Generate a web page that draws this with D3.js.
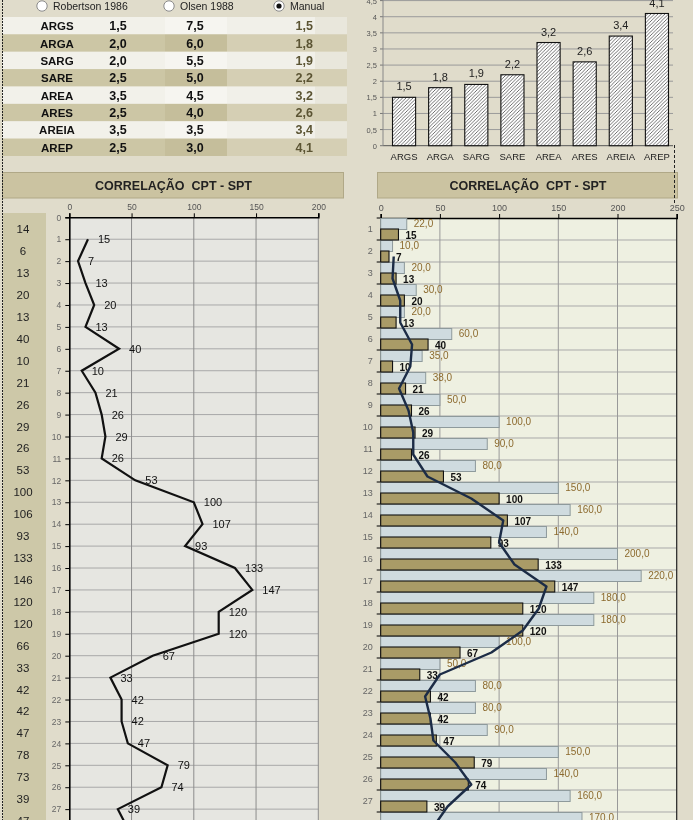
<!DOCTYPE html>
<html><head><meta charset="utf-8">
<script src="https://cdn.jsdelivr.net/npm/d3@7"></script>
<style>
html,body{margin:0;padding:0;background:#e0dccb;overflow:hidden}
svg{display:block;will-change:transform}
text{font-family:"Liberation Sans",Arial,sans-serif}
</style></head>
<body>
<svg id="c" width="693" height="820"></svg>
<script>
// ---------- DATA ----------
const soils      = ["ARGS","ARGA","SARG","SARE","AREA","ARES","AREIA","AREP"];
const kRobertson = [1.5,2.0,2.0,2.5,3.5,2.5,3.5,2.5];
const kOlsen     = [7.5,6.0,5.5,5.0,4.5,4.0,3.5,3.0];
const kManual    = [1.5,1.8,1.9,2.2,3.2,2.6,3.4,4.1];
const methods    = ["Robertson 1986","Olsen 1988","Manual"];
const depths     = [1,2,3,4,5,6,7,8,9,10,11,12,13,14,15,16,17,18,19,20,21,22,23,24,25,26,27,28];
const qcValues   = [22,10,20,30,20,60,35,38,50,100,90,80,150,160,140,200,220,180,180,100,50,80,80,90,150,140,160,170];
const nsptValues = [15,7,13,20,13,40,10,21,26,29,26,53,100,107,93,133,147,120,120,67,33,42,42,47,79,74,39,48];
const nsptTable  = [14,6,13,20,13,40,10,21,26,29,26,53,100,106,93,133,146,120,120,66,33,42,42,47,78,73,39,47];
const leftTicks  = [0,50,100,150,200];
const rightTicks = [0,50,100,150,200,250];
const barTicks   = [0,0.5,1,1.5,2,2.5,3,3.5,4,4.5];
const title      = "CORRELAÇÃO  CPT - SPT";

const loc = d3.formatLocale({decimal:",",thousands:".",grouping:[3],currency:["R$",""]});
const f1 = loc.format(".1f");
const fTick = v => loc.format("~g")(v);

const svg = d3.select("#c");
const defs = svg.append("defs");
const pat = defs.append("pattern").attr("id","hatch").attr("patternUnits","userSpaceOnUse")
  .attr("width",3.5).attr("height",3.5);
pat.append("rect").attr("width",3.5).attr("height",3.5).attr("fill","#fff");
pat.append("path").attr("d","M-1,1 L1,-1 M0,3.5 L3.5,0 M2.5,4.5 L4.5,2.5")
  .attr("stroke","#333").attr("stroke-width",0.7);

// ---------- TOP LEFT TABLE ----------
const radioX = [42,169,279];
methods.forEach((m,i)=>{
  svg.append("circle").attr("cx",radioX[i]).attr("cy",6).attr("r",5.2)
    .attr("fill","#fff").attr("stroke","#8a8a8a").attr("stroke-width",1);
  if(i===2) svg.append("circle").attr("cx",radioX[i]).attr("cy",6).attr("r",2.6).attr("fill","#111");
  svg.append("text").attr("x",radioX[i]+11).attr("y",10).attr("font-size",10.5).attr("fill","#222").text(m);
});
const rowY = d3.scaleBand(soils,[17,156]);
soils.forEach((s,i)=>{
  const y0 = rowY(s), h = rowY.bandwidth();
  const dark = i%2===1;
  svg.append("rect").attr("x",2).attr("y",y0).attr("width",163).attr("height",h).attr("fill",dark?"#ccc6a5":"#f2f1ea");
  svg.append("rect").attr("x",165).attr("y",y0).attr("width",62).attr("height",h).attr("fill",dark?"#c5be9b":"#f6f5f0");
  svg.append("rect").attr("x",227).attr("y",y0).attr("width",dark?120:88).attr("height",h).attr("fill",dark?"#d5cfb4":"#f1f0e9");
  if(!dark) svg.append("rect").attr("x",315).attr("y",y0).attr("width",32).attr("height",h).attr("fill","#e9e7dc");
  const ty = y0+h/2+4.5;
  svg.append("text").attr("x",57).attr("y",ty).attr("text-anchor","middle").attr("font-size",11.5).attr("font-weight","bold").attr("fill","#111").text(s);
  svg.append("text").attr("x",118).attr("y",ty).attr("text-anchor","middle").attr("font-size",12.5).attr("font-weight","bold").attr("fill","#111").text(f1(kRobertson[i]));
  svg.append("text").attr("x",195).attr("y",ty).attr("text-anchor","middle").attr("font-size",12.5).attr("font-weight","bold").attr("fill","#111").text(f1(kOlsen[i]));
  svg.append("text").attr("x",313).attr("y",ty).attr("text-anchor","end").attr("font-size",12.5).attr("font-weight","bold").attr("fill","#5b5433").text(f1(kManual[i]));
});

// ---------- TOP RIGHT BAR CHART ----------
const bx = d3.scaleBand(soils,[386,675]).paddingInner(0.36).paddingOuter(0.18);
const by = d3.scaleLinear([0,4.5],[145.7,0.6]);
const gB = svg.append("g");
gB.selectAll("line.g").data(barTicks).join("line")
  .attr("x1",383).attr("x2",673).attr("y1",d=>by(d)).attr("y2",d=>by(d))
  .attr("stroke",d=>d===0?"#555":"#9a9a9a").attr("stroke-width",1);
gB.selectAll("line.t").data(barTicks).join("line")
  .attr("x1",380).attr("x2",383).attr("y1",d=>by(d)).attr("y2",d=>by(d)).attr("stroke","#777");
gB.append("line").attr("x1",383).attr("x2",383).attr("y1",0).attr("y2",145.7).attr("stroke","#888");
gB.selectAll("text.t").data(barTicks).join("text")
  .attr("x",377).attr("y",d=>by(d)+3).attr("text-anchor","end").attr("font-size",7.5).attr("fill","#555")
  .text(d=>fTick(d));
gB.selectAll("rect.b").data(soils).join("rect")
  .attr("x",d=>bx(d)).attr("width",bx.bandwidth())
  .attr("y",(d,i)=>by(kManual[i])).attr("height",(d,i)=>by(0)-by(kManual[i]))
  .attr("fill","url(#hatch)").attr("stroke","#111").attr("stroke-width",1.1);
gB.selectAll("text.v").data(soils).join("text")
  .attr("x",d=>bx(d)+bx.bandwidth()/2).attr("y",(d,i)=>by(kManual[i])-7)
  .attr("text-anchor","middle").attr("font-size",11).attr("fill","#222").text((d,i)=>f1(kManual[i]));
gB.selectAll("text.c").data(soils).join("text")
  .attr("x",d=>bx(d)+bx.bandwidth()/2).attr("y",160)
  .attr("text-anchor","middle").attr("font-size",9.5).attr("fill","#222").text(d=>d);

// ---------- HEADERS ----------
[[2,341],[377,300]].forEach(([x,w])=>{
  svg.append("rect").attr("x",x+0.5).attr("y",172.5).attr("width",w).attr("height",25.5)
    .attr("fill","#cbc3a1").attr("stroke","#b0a887");
  svg.append("text").attr("x",x+w/2+1).attr("y",190).attr("text-anchor","middle")
    .attr("font-size",12.5).attr("font-weight","bold").attr("fill","#222")
    .style("white-space","pre").text(title);
});

// ---------- LEFT CHART ----------
const lx = d3.scaleLinear([0,200],[69.3,318.3]);
const ly = d3.scaleLinear([0,28],[217.3,217.3+21.92*28]);
const gL = svg.append("g");
gL.append("rect").attr("x",3).attr("y",213).attr("width",43).attr("height",620).attr("fill","#cdc8a8");
gL.append("rect").attr("x",lx(0)).attr("y",ly(0)).attr("width",lx(200)-lx(0)).attr("height",620).attr("fill","#e6e6e1");
gL.selectAll("line.h").data(d3.range(1,30)).join("line")
  .attr("x1",lx(0)).attr("x2",lx(200)).attr("y1",d=>ly(d)).attr("y2",d=>ly(d)).attr("stroke","#a8a8a8");
gL.selectAll("line.v").data(leftTicks.slice(1)).join("line")
  .attr("x1",d=>lx(d)).attr("x2",d=>lx(d)).attr("y1",ly(0)).attr("y2",830).attr("stroke","#8c8c8c");
gL.append("g").attr("transform",`translate(0,${ly(0)})`)
  .call(d3.axisTop(lx).tickValues(leftTicks).tickSize(4).tickPadding(3).tickFormat(d=>d))
  .call(g=>{g.select(".domain").attr("stroke","#000").attr("stroke-width",1.6);
            g.selectAll(".tick line").attr("stroke","#000");
            g.selectAll("text").attr("font-size",8.5).attr("fill","#555").attr("font-family","Liberation Sans, Arial");});
gL.append("g").attr("transform",`translate(${lx(0)},0)`)
  .call(d3.axisLeft(ly).tickValues(d3.range(0,29)).tickSize(4).tickPadding(4).tickFormat(d=>d))
  .call(g=>{g.select(".domain").attr("stroke","#000").attr("stroke-width",1.6);
            g.selectAll(".tick line").attr("stroke","#000");
            g.selectAll("text").attr("font-size",8.5).attr("fill","#666").attr("font-family","Liberation Sans, Arial");});
gL.selectAll("text.tb").data(depths).join("text")
  .attr("x",23).attr("y",d=>ly(d)-6).attr("text-anchor","middle").attr("font-size",11.5).attr("fill","#222")
  .text((d,i)=>nsptTable[i]);
const lineL = d3.line().x(d=>lx(d[1])).y(d=>ly(d[0]));
gL.append("path").datum(depths.map((d,i)=>[d,nsptValues[i]])).attr("d",lineL)
  .attr("fill","none").attr("stroke","#111").attr("stroke-width",2.2).attr("stroke-linejoin","miter");
gL.selectAll("text.lv").data(depths).join("text")
  .attr("x",(d,i)=>lx(nsptValues[i])+10).attr("y",d=>ly(d)+4).attr("font-size",11).attr("fill","#111")
  .text((d,i)=>nsptValues[i]);

// ---------- RIGHT CHART ----------
const rx = d3.scaleLinear([0,250],[380.7,676.7]);
const ry = d3.scaleBand(depths,[218,218+22*28]);
const rs = d3.scaleBand(["qc","spt"],[0,ry.bandwidth()]);
const gR = svg.append("g");
gR.append("rect").attr("x",rx(0)).attr("y",218).attr("width",rx(250)-rx(0)).attr("height",620).attr("fill","#eef0e1");
gR.selectAll("line.h").data(depths).join("line")
  .attr("x1",rx(0)).attr("x2",rx(250)).attr("y1",d=>ry(d)+ry.bandwidth()).attr("y2",d=>ry(d)+ry.bandwidth()).attr("stroke","#a9a9a9");
gR.selectAll("line.v").data(rightTicks.slice(1,-1)).join("line")
  .attr("x1",d=>rx(d)).attr("x2",d=>rx(d)).attr("y1",218).attr("y2",830).attr("stroke","#999");
gR.append("line").attr("x1",rx(250)).attr("x2",rx(250)).attr("y1",218).attr("y2",830).attr("stroke","#222").attr("stroke-width",1.2);
gR.append("g").attr("transform","translate(0,218)")
  .call(d3.axisTop(rx).tickValues(rightTicks).tickSize(4).tickPadding(3).tickFormat(d=>d))
  .call(g=>{g.select(".domain").attr("stroke","#000").attr("stroke-width",1.6);
            g.selectAll(".tick line").attr("stroke","#000");
            g.selectAll("text").attr("font-size",9).attr("fill","#555").attr("font-family","Liberation Sans, Arial");});
gR.append("g").attr("transform",`translate(${rx(0)},0)`)
  .call(d3.axisLeft(ry).tickValues(depths).tickSize(0).tickPadding(8).tickFormat(d=>d))
  .call(g=>{g.select(".domain").attr("stroke","#000").attr("stroke-width",1.6);
            g.selectAll("text").attr("font-size",9).attr("fill","#666").attr("font-family","Liberation Sans, Arial");});
gR.selectAll("line.tk").data([218].concat(depths.map(d=>ry(d)+ry.bandwidth()))).join("line")
  .attr("x1",rx(0)-4).attr("x2",rx(0)).attr("y1",d=>d).attr("y2",d=>d).attr("stroke","#000");
gR.selectAll("rect.q").data(depths).join("rect")
  .attr("x",rx(0)).attr("y",d=>ry(d)+rs("qc")+0.5).attr("height",rs.bandwidth())
  .attr("width",(d,i)=>rx(qcValues[i])-rx(0)).attr("fill","#cfdbdf").attr("stroke","#8e9a9c").attr("stroke-width",1);
gR.selectAll("rect.s").data(depths).join("rect")
  .attr("x",rx(0)).attr("y",d=>ry(d)+rs("spt")).attr("height",rs.bandwidth())
  .attr("width",(d,i)=>rx(nsptValues[i])-rx(0)).attr("fill","#a99b67").attr("stroke","#111").attr("stroke-width",1.1);
gR.selectAll("text.q").data(depths).join("text")
  .attr("x",(d,i)=>rx(qcValues[i])+7).attr("y",d=>ry(d)+rs("qc")+rs.bandwidth()/2+3.5)
  .attr("font-size",10).attr("fill","#8c6a2e").text((d,i)=>f1(qcValues[i]));
gR.selectAll("text.s").data(depths).join("text")
  .attr("x",(d,i)=>rx(nsptValues[i])+7).attr("y",d=>ry(d)+rs("spt")+rs.bandwidth()/2+4)
  .attr("font-size",10).attr("font-weight","bold").attr("fill","#111").text((d,i)=>nsptValues[i]);
// 2-period moving average trendline of SPT values
const ma = depths.slice(1).map((d,i)=>[d,(nsptValues[i]+nsptValues[i+1])/2]);
const lineR = d3.line().x(d=>rx(d[1])).y(d=>ry(d[0])+rs("spt")+rs.bandwidth()/2);
gR.append("path").datum(ma).attr("d",lineR).attr("fill","none").attr("stroke","#1c2c46").attr("stroke-width",2.4)
  .attr("stroke-linejoin","round");

// ---------- decoration ----------
svg.append("line").attr("x1",2.5).attr("x2",2.5).attr("y1",0).attr("y2",820).attr("stroke","#222").attr("stroke-dasharray","2,1");
svg.append("line").attr("x1",674.5).attr("x2",674.5).attr("y1",145).attr("y2",205).attr("stroke","#222").attr("stroke-dasharray","3,2");
</script>
</body></html>
